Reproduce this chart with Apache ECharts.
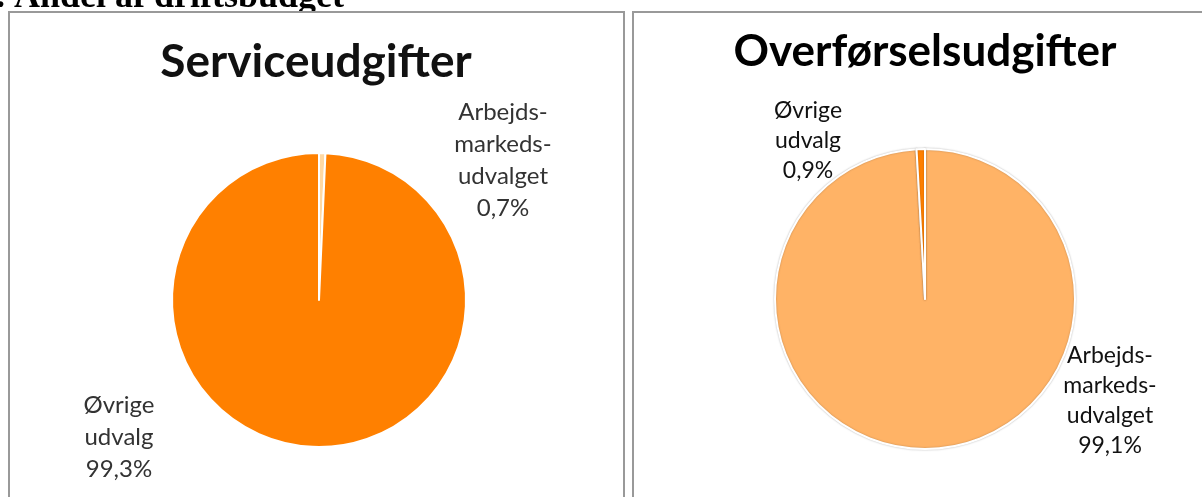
<!DOCTYPE html>
<html>
<head>
<meta charset="utf-8">
<script src="https://cdn.jsdelivr.net/npm/echarts@6/dist/echarts.min.js"></script>
<style>
  html, body { margin: 0; padding: 0; background: #fff; }
  #chart { width: 1202px; height: 497px; }
</style>
</head>
<body>
<div id="chart"></div>
<script>
// data
const serviceNames = ['Arbejds-\nmarkeds-\nudvalget', 'Øvrige\nudvalg']
const serviceValues = [0.7, 99.3]
const overfNames = ['Arbejds-\nmarkeds-\nudvalget', 'Øvrige\nudvalg']
const overfValues = [99.1, 0.9]

const titles = ['Serviceudgifter', 'Overførselsudgifter']

const chart = echarts.init(document.getElementById('chart'))

const fmt = p => p.name + '\n' + p.value.toFixed(1).replace('.', ',') + '%'

// label spots (px)
const serviceLabelPos = [[503, 160], [119, 437]]
const overfLabelPos = [[1110, 401], [808, 141]]

chart.setOption({
  animation: false,
  graphic: [
    {
      type: 'text',
      left: -4,
      top: -20,
      style: {
        text: '. Andel af driftsbudget',
        font: 'bold 36px "Liberation Serif"',
        fill: '#000'
      }
    },
    {
      type: 'rect',
      shape: { x: 9, y: 12, width: 615, height: 500 },
      style: { fill: '#fff', stroke: '#999', lineWidth: 2 }
    },
    {
      type: 'rect',
      shape: { x: 633, y: 12, width: 600, height: 500 },
      style: { fill: '#fff', stroke: '#999', lineWidth: 2 }
    },
    {
      type: 'text',
      x: 316, y: 62,
      style: {
        text: titles[0],
        font: 'bold 46px Lato',
        fill: '#111',
        align: 'center',
        verticalAlign: 'middle'
      }
    },
    {
      type: 'text',
      x: 925, y: 52,
      style: {
        text: titles[1],
        font: 'bold 44px Lato',
        fill: '#000',
        align: 'center',
        verticalAlign: 'middle'
      }
    }
  ],
  series: [
    {
      type: 'pie',
      center: [319, 300],
      radius: 147,
      startAngle: 90,
      clockwise: true,
      itemStyle: { borderColor: '#fff', borderWidth: 2 },
      label: {
        show: true,
        formatter: fmt,
        fontFamily: 'Lato',
        fontSize: 24,
        lineHeight: 32,
        color: '#333',
        align: 'center'
      },
      labelLine: { show: false },
      labelLayout: p => ({
        x: serviceLabelPos[p.dataIndex][0],
        y: serviceLabelPos[p.dataIndex][1],
        align: 'center',
        verticalAlign: 'middle'
      }),
      data: serviceNames.map((n, i) => ({
        name: n,
        value: serviceValues[i],
        itemStyle: { color: ['#FFD9A3', '#FF8000'][i] }
      }))
    },
    {
      type: 'pie',
      center: [925, 299],
      radius: 150,
      startAngle: 90,
      clockwise: true,
      itemStyle: {
        borderColor: '#fff',
        borderWidth: 2,
        shadowColor: 'rgba(0,0,0,0.25)',
        shadowBlur: 2
      },
      label: {
        show: true,
        formatter: fmt,
        fontFamily: 'Lato',
        fontSize: 23,
        lineHeight: 30,
        color: '#111',
        align: 'center'
      },
      labelLine: { show: false },
      labelLayout: p => ({
        x: overfLabelPos[p.dataIndex][0],
        y: overfLabelPos[p.dataIndex][1],
        align: 'center',
        verticalAlign: 'middle'
      }),
      data: overfNames.map((n, i) => ({
        name: n,
        value: overfValues[i],
        itemStyle: { color: ['#FFB366', '#FF8000'][i] }
      }))
    }
  ]
})
</script>
</body>
</html>
